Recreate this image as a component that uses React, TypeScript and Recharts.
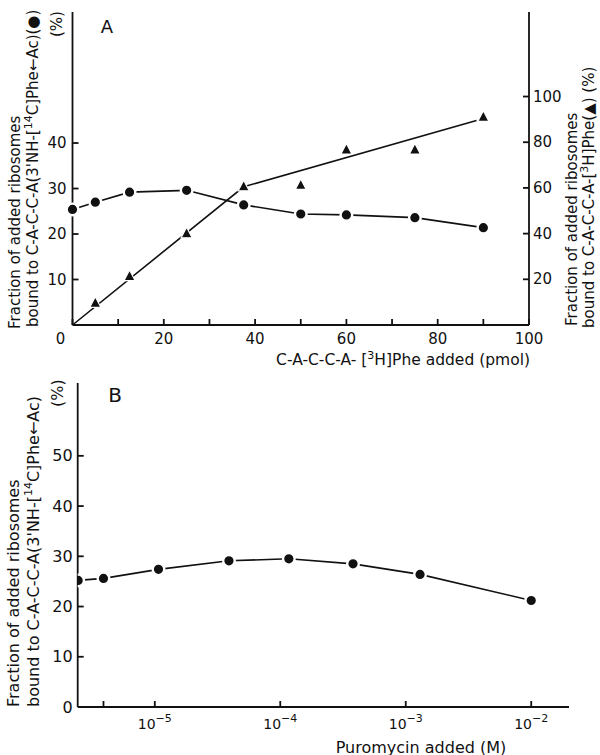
import React from "react";
import { ComposedChart, LineChart, Line, Scatter, XAxis, YAxis } from "recharts";

const FONT = "'DejaVu Sans', sans-serif";
const INK = "#111";

// Panel A: x = C-A-C-C-A-[3H]Phe added (pmol)
const pmolCircles = [0, 5, 12.5, 25, 37.5, 50, 60, 75, 90];
const boundAc = [25.4, 27.0, 29.2, 29.6, 26.4, 24.4, 24.2, 23.6, 21.4]; // left axis, (●)
const pmolTriangles = [5, 12.5, 25, 37.5, 50, 60, 75, 90];
const boundPhe = [9.5, 21.2, 39.9, 60.5, 61.1, 76.6, 76.6, 90.9]; // right axis, (▲)
const fitPmol = [0, 37.5, 88.5];
const fitPhe = [0, 60.5, 89.5];
const ticksAx = [0, 10, 20, 30, 40, 50, 60, 70, 80, 90, 100];
const ticksAleft = [10, 20, 30, 40];
const ticksAright = [20, 40, 60, 80, 100];

// Panel B: x = Puromycin added (M), log scale
const puromycinM = [2.45e-6, 3.9e-6, 1.07e-5, 3.9e-5, 1.17e-4, 3.8e-4, 1.3e-3, 1e-2];
const boundB = [25.2, 25.6, 27.4, 29.1, 29.5, 28.5, 26.4, 21.2];
const ticksBx = [3.9e-6, 1e-5, 1e-4, 1e-3, 1e-2];
const ticksBy = [0, 10, 20, 30, 40, 50];

const circleData = pmolCircles.map((x, i) => ({ x, y: boundAc[i] }));
const triData = pmolTriangles.map((x, i) => ({ x, y: boundPhe[i] }));
const fitData = fitPmol.map((x, i) => ({ x, y: fitPhe[i] }));
const dataB = puromycinM.map((x, i) => ({ x, y: boundB[i] }));

const axisLine = { stroke: INK, strokeWidth: 1.8 };
const dot = { r: 5.8, fill: INK, stroke: "#fff", strokeWidth: 2.4 };

const Triangle = (p: any) => (
  <polygon
    points={`${p.cx},${p.cy - 6.5} ${p.cx - 5.5},${p.cy + 4} ${p.cx + 5.5},${p.cy + 4}`}
    fill={INK}
    stroke="#fff"
    strokeWidth={1.2}
  />
);

// inward tick mark; the axis passes label anchors 20px off the axis line (tickMargin)
const Mark = ({ d }: any) => <path d={d} stroke={INK} strokeWidth={1.8} fill="none" />;

const TickAX = ({ x, y, payload }: any) => {
  const v = payload.value;
  const ax = y - 20;
  return (
    <g>
      <Mark d={`M${x},${ax} V${ax - 6}`} />
      {v % 20 === 0 && (
        <text x={v === 0 ? x - 12 : x} y={ax + 14} textAnchor="middle" dominantBaseline="central"
          fontFamily={FONT} fontSize={15} fill={INK}>{v}</text>
      )}
    </g>
  );
};

const TickAL = ({ x, y, payload }: any) => {
  const ax = x + 20;
  return (
    <g>
      <Mark d={`M${ax},${y} H${ax + 6}`} />
      <text x={ax - 6} y={y} textAnchor="end" dominantBaseline="central"
        fontFamily={FONT} fontSize={15} fill={INK}>{payload.value}</text>
    </g>
  );
};

const TickAR = ({ x, y, payload }: any) => {
  const ax = x - 20;
  return (
    <g>
      <Mark d={`M${ax},${y} H${ax - 6}`} />
      <text x={ax + 4} y={y} textAnchor="start" dominantBaseline="central"
        fontFamily={FONT} fontSize={15} fill={INK}>{payload.value}</text>
    </g>
  );
};

const TickBX = ({ x, y, payload }: any) => {
  const v = payload.value;
  const ax = y - 20;
  const e = Math.round(Math.log10(v));
  const major = Math.abs(v - Math.pow(10, e)) / v < 1e-6;
  return (
    <g>
      <Mark d={`M${x},${ax} V${ax - 6}`} />
      {major && (
        <text x={x} y={ax + 17} textAnchor="middle" dominantBaseline="central"
          fontFamily={FONT} fontSize={14} fill={INK}>
          10<tspan dy={-6} fontSize={11}>{"\u2212" + Math.abs(e)}</tspan>
        </text>
      )}
    </g>
  );
};

const TickBY = ({ x, y, payload }: any) => {
  const ax = x + 20;
  return (
    <g>
      {payload.value !== 0 && <Mark d={`M${ax},${y} H${ax + 6}`} />}
      <text x={ax - 5} y={y} textAnchor="end" dominantBaseline="central"
        fontFamily={FONT} fontSize={16} fill={INK}>{payload.value}</text>
    </g>
  );
};

const VText = ({ x, y, size, children }: any) => (
  <text transform={`translate(${x},${y}) rotate(-90)`} textAnchor="start" dominantBaseline="central"
    fontFamily={FONT} fontSize={size} fill={INK}>{children}</text>
);

const tickOpts = { tickSize: 0, tickMargin: 20, tickLine: false };

export default function App() {
  return (
    <div style={{ position: "absolute", left: 0, top: 0, width: 600, height: 755, background: "#fff" }}>
      <ComposedChart width={600} height={370} margin={{ top: 12, right: 11, bottom: 15, left: 12.5 }}>
        <XAxis type="number" dataKey="x" domain={[0, 100]} ticks={ticksAx} interval={0}
          height={30} {...tickOpts} axisLine={axisLine} tick={<TickAX />} />
        <YAxis yAxisId="left" type="number" domain={[0, 68.8]} ticks={ticksAleft} interval={0}
          width={60} {...tickOpts} axisLine={axisLine} tick={<TickAL />} />
        <YAxis yAxisId="right" orientation="right" type="number" domain={[0, 137]} ticks={ticksAright} interval={0}
          width={60} {...tickOpts} axisLine={axisLine} tick={<TickAR />} />
        <Line yAxisId="right" data={fitData} dataKey="y" stroke={INK} strokeWidth={1.6} dot={false}
          isAnimationActive={false} />
        <Scatter yAxisId="right" data={triData} dataKey="y" shape={Triangle} isAnimationActive={false} />
        <Line yAxisId="left" data={circleData} dataKey="y" stroke={INK} strokeWidth={1.6} dot={dot}
          activeDot={false} isAnimationActive={false} />
        <text x={107} y={26} textAnchor="middle" dominantBaseline="central" fontFamily={FONT} fontSize={18} fill={INK}>A</text>
        <text x={530} y={360} textAnchor="end" dominantBaseline="central" fontFamily={FONT} fontSize={15.5} fill={INK}>
          C-A-C-C-A- [<tspan dy={-5} fontSize={11}>3</tspan><tspan dy={5}>H]Phe added (pmol)</tspan>
        </text>
        <VText x={15} y={329} size={15}>Fraction of added ribosomes</VText>
        <VText x={33} y={327} size={15}>
          bound to C-A-C-C-A(3'NH-[<tspan dy={-5} fontSize={11}>14</tspan><tspan dy={5}>C]Phe←Ac)(●)</tspan>
        </VText>
        <VText x={57} y={37} size={15}>(%)</VText>
        <VText x={572} y={326} size={15}>Fraction of added ribosomes</VText>
        <VText x={589} y={328} size={15}>
          bound to C-A-C-C-A-[<tspan dy={-5} fontSize={11}>3</tspan><tspan dy={5}>H]Phe(▲) (%)</tspan>
        </VText>
      </ComposedChart>
      <LineChart width={600} height={385} margin={{ top: 13, right: 31, bottom: 18, left: 17.7 }}>
        <XAxis type="number" dataKey="x" scale="log" domain={[2.43e-6, 2.0e-2]} allowDataOverflow
          ticks={ticksBx} interval={0} height={30} {...tickOpts} axisLine={axisLine} tick={<TickBX />} />
        <YAxis type="number" domain={[0, 64.5]} ticks={ticksBy} interval={0} width={60}
          {...tickOpts} axisLine={axisLine} tick={<TickBY />} />
        <Line data={dataB} dataKey="y" stroke={INK} strokeWidth={1.6} dot={dot} activeDot={false}
          isAnimationActive={false} />
        <text x={115} y={25} textAnchor="middle" dominantBaseline="central" fontFamily={FONT} fontSize={20} fill={INK}>B</text>
        <text x={421} y={377} textAnchor="middle" dominantBaseline="central" fontFamily={FONT} fontSize={16} fill={INK}>
          Puromycin added (M)
        </text>
        <VText x={13} y={337} size={16}>Fraction of added ribosomes</VText>
        <VText x={33} y={337} size={16}>
          bound to C-A-C-C-A(3'NH-[<tspan dy={-5} fontSize={11}>14</tspan><tspan dy={5}>C]Phe←Ac)</tspan>
        </VText>
        <VText x={57} y={37} size={16}>(%)</VText>
      </LineChart>
    </div>
  );
}
